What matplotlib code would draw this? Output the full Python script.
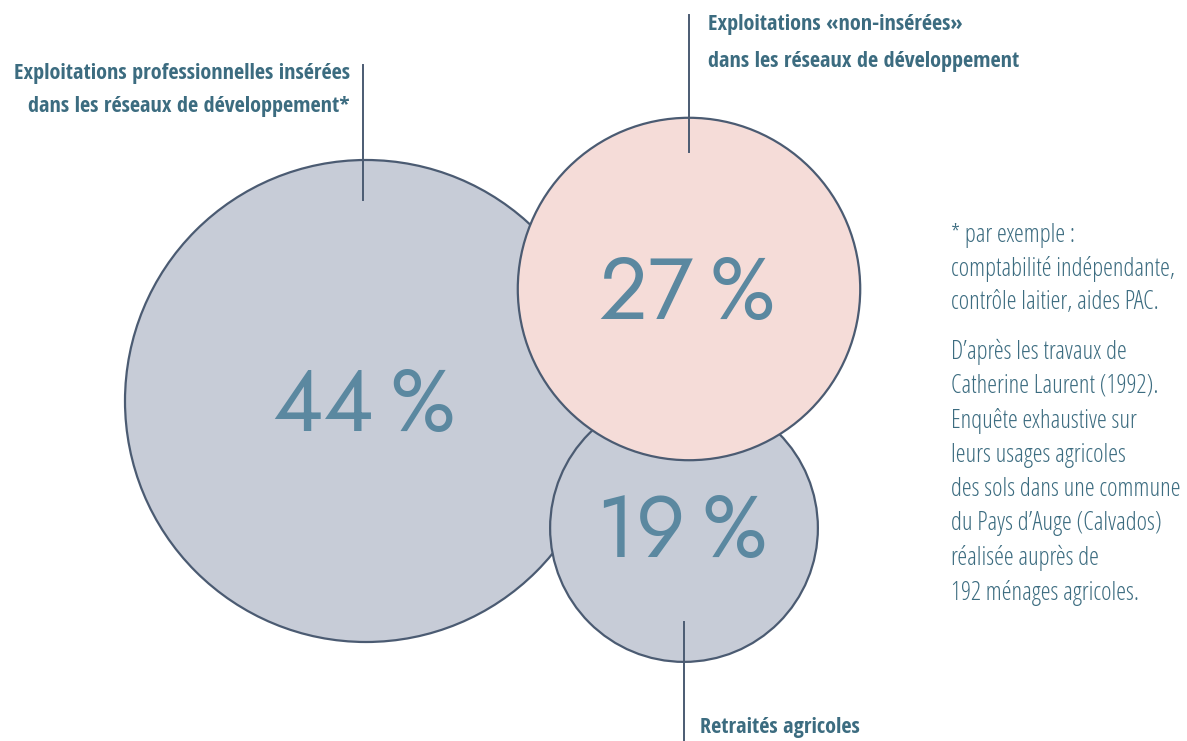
import matplotlib
matplotlib.use("Agg")
import matplotlib.pyplot as plt
from matplotlib.patches import Circle

# data
labels = ["Exploitations professionnelles insérées\ndans les réseaux de développement*",
          "Retraités agricoles",
          "Exploitations «non-insérées»\ndans les réseaux de développement"]
values = [44, 19, 27]
centers = [(366, 401), (684, 528), (689, 289)]
fills = ["#c7ccd7", "#c7ccd7", "#f5dcd8"]
note_1 = ["* par exemple :", "comptabilité indépendante,", "contrôle laitier, aides PAC."]
note_2 = ["D\u2019après les travaux de", "Catherine Laurent (1992).",
          "Enquête exhaustive sur", "leurs usages agricoles",
          "des sols dans une commune", "du Pays d\u2019Auge (Calvados)",
          "réalisée auprès de", "192 ménages agricoles."]

edge = "#4b5b72"
txt = "#3c6c80"
num = "#5b88a0"

fig = plt.figure(figsize=(11.87, 7.41), dpi=100)
ax = fig.add_axes([0, 0, 1, 1])
ax.set_xlim(0, 1187)
ax.set_ylim(741, 0)
ax.set_aspect("equal")
ax.axis("off")

# radius grows like value**0.7
k = 241 / values[0] ** 0.7
for (cx, cy), v, fc in zip(centers, values, fills):
    ax.add_patch(Circle((cx, cy), k * v ** 0.7, facecolor=fc, edgecolor=edge, lw=1.6))

for (cx, cy), v in zip(centers, values):
    ax.text(cx - 2, cy + 5, "%d\u2009%%" % v, ha="center", va="center", color=num,
            fontsize=62, family=["Jost", "DejaVu Sans"])

# leader lines
ax.plot([363, 363], [65, 200], color=edge, lw=1.4)
ax.plot([689, 689], [15, 152], color=edge, lw=1.4)
ax.plot([684, 684], [622, 741], color=edge, lw=1.4)

lab = dict(color=txt, fontsize=16, family="Open Sans Condensed", fontweight="bold",
           fontstretch="condensed")
ax.text(350, 90, labels[0], ha="right", va="center", linespacing=1.77, **lab)
ax.text(708, 43, labels[2], ha="left", va="center", linespacing=1.96, **lab)
ax.text(700, 728, labels[1], ha="left", va="center", **lab)

note = dict(ha="left", va="center", color=txt, fontsize=18, family="Open Sans",
            fontweight=300, fontstretch="condensed")
for i, s in enumerate(note_1):
    ax.text(951, 236 + i * 33, s, **note)
for i, s in enumerate(note_2):
    ax.text(951, 352 + i * 34.4, s, **note)

fig.savefig("out.png", dpi=100, facecolor="white")
